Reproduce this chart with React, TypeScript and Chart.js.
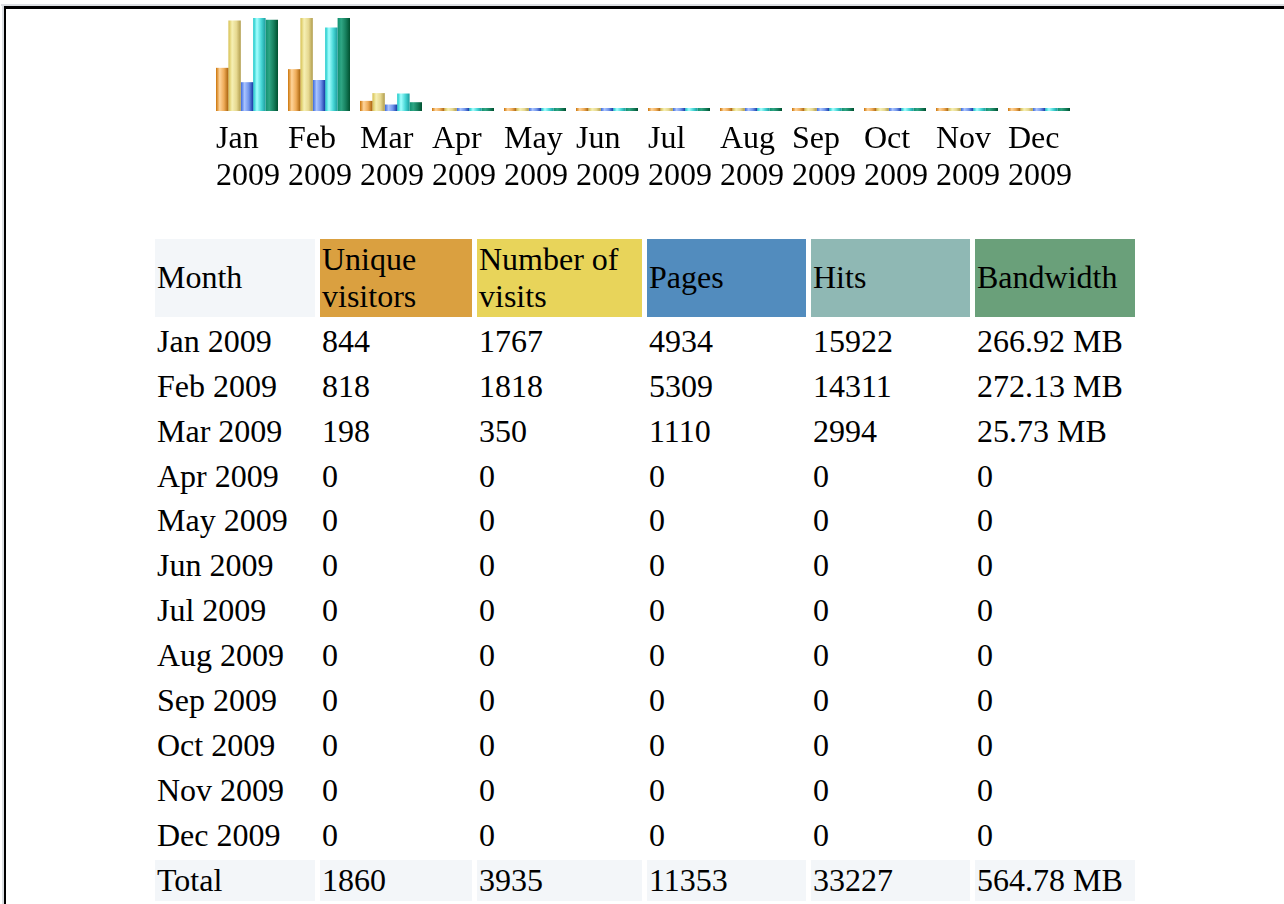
import React, { useEffect, useRef } from "react";
import { Chart, registerables } from "chart.js";

Chart.register(...registerables);

const MONTHS = ["Jan", "Feb", "Mar", "Apr", "May", "Jun", "Jul", "Aug", "Sep", "Oct", "Nov", "Dec"];
const YEAR = "2009";
const uniqueVisitors = [844, 818, 198, 0, 0, 0, 0, 0, 0, 0, 0, 0];
const numberOfVisits = [1767, 1818, 350, 0, 0, 0, 0, 0, 0, 0, 0, 0];
const pages = [4934, 5309, 1110, 0, 0, 0, 0, 0, 0, 0, 0, 0];
const hits = [15922, 14311, 2994, 0, 0, 0, 0, 0, 0, 0, 0, 0];
const bandwidthMB = [266.92, 272.13, 25.73, 0, 0, 0, 0, 0, 0, 0, 0, 0];

const HEADERS = ["Month", "Unique visitors", "Number of visits", "Pages", "Hits", "Bandwidth"];
const HEADER_BG = ["#f3f6f9", "#daa040", "#e8d45a", "#528cbe", "#8fb8b4", "#6aa07a"];
const COL_W = [156, 148, 161, 155, 155, 156];

const FONT = '"Liberation Serif", "Times New Roman", serif';
const CAT_PCT = 62 / 72;

const GRADS: string[][] = [
  ["#cc7408", "#ffd49a", "#eeab58", "#a8620c"],
  ["#d6c050", "#f6f0b4", "#e6d890", "#b09c4c"],
  ["#3766dc", "#a9c3ff", "#6f93ea", "#1638a4"],
  ["#12c6c6", "#a6ffff", "#48d8d8", "#1a9c9c"],
  ["#109070", "#2fa684", "#17805e", "#00502f"],
];

function gradientFor(ctx: any) {
  const stops = GRADS[ctx.datasetIndex];
  const chart = ctx.chart;
  const xs = chart.scales && chart.scales.x;
  if (!xs || ctx.dataIndex === undefined || !isFinite(xs.width) || xs.width <= 0) return stops[1];
  const cw = xs.width / MONTHS.length;
  const gw = cw * CAT_PCT;
  const bw = gw / 5;
  const left = xs.getPixelForValue(ctx.dataIndex) - gw / 2 + ctx.datasetIndex * bw;
  const g = chart.ctx.createLinearGradient(left, 0, left + bw, 0);
  g.addColorStop(0, stops[0]);
  g.addColorStop(0.3, stops[1]);
  g.addColorStop(0.65, stops[2]);
  g.addColorStop(1, stops[3]);
  return g;
}

function fmtBw(v: number) {
  return v === 0 ? "0" : v.toFixed(2) + " MB";
}
const sum = (a: number[]) => a.reduce((s, v) => s + v, 0);

function App() {
  const ref = useRef<HTMLCanvasElement | null>(null);
  useEffect(() => {
    if (!ref.current) return;
    const mk = (data: number[], axis: string) => ({
      data,
      yAxisID: axis,
      backgroundColor: gradientFor,
      borderWidth: 0,
      minBarLength: 3,
      barPercentage: 1,
      categoryPercentage: CAT_PCT,
    });
    const chart = new Chart(ref.current, {
      type: "bar",
      data: {
        labels: MONTHS.map((m) => [m, YEAR]),
        datasets: [
          mk(uniqueVisitors, "yv"),
          mk(numberOfVisits, "yv"),
          mk(pages, "yp"),
          mk(hits, "yp"),
          mk(bandwidthMB, "yb"),
        ] as any,
      },
      options: {
        animation: false,
        responsive: false,
        maintainAspectRatio: false,
        layout: { padding: { left: 211, right: 209, top: 18, bottom: 0 } },
        plugins: { legend: { display: false }, tooltip: { enabled: false } },
        scales: {
          x: {
            grid: { display: false, drawTicks: false },
            border: { display: false },
            ticks: {
              autoSkip: false,
              maxRotation: 0,
              minRotation: 0,
              align: "start",
              labelOffset: -31,
              padding: 10,
              color: "#000",
              font: { family: FONT, size: 32, lineHeight: 37 / 32 },
            },
          },
          yv: { display: false, min: 0, max: Math.max(...numberOfVisits) },
          yp: { display: false, min: 0, max: Math.max(...hits) },
          yb: { display: false, min: 0, max: Math.max(...bandwidthMB) },
        },
      } as any,
    });
    return () => chart.destroy();
  }, []);

  const rows = MONTHS.map((m, i) => [
    `${m} ${YEAR}`,
    String(uniqueVisitors[i]),
    String(numberOfVisits[i]),
    String(pages[i]),
    String(hits[i]),
    fmtBw(bandwidthMB[i]),
  ]);
  const total = [
    "Total",
    String(sum(uniqueVisitors)),
    String(sum(numberOfVisits)),
    String(sum(pages)),
    String(sum(hits)),
    sum(bandwidthMB).toFixed(2) + " MB",
  ];

  const cell: React.CSSProperties = {
    padding: 2,
    fontFamily: FONT,
    fontSize: 32,
    lineHeight: "36.9px",
    color: "#000",
    textAlign: "left",
    verticalAlign: "middle",
    fontWeight: "normal",
  };

  return (
    <div style={{ position: "absolute", left: 0, top: 0, width: 1284, height: 904, background: "#fff", overflow: "hidden" }}>
      <div style={{ position: "absolute", left: 1, top: 4, right: 0, height: 2, background: "#dcdfe3" }} />
      <div style={{ position: "absolute", left: 2, top: 5, width: 2, bottom: 0, background: "#dcdfe3" }} />
      <div style={{ position: "absolute", left: 4, top: 6, right: 0, height: 3, background: "#000" }} />
      <div style={{ position: "absolute", left: 4, top: 6, width: 2, bottom: 0, background: "#000" }} />
      <canvas ref={ref} width={1284} height={204} style={{ position: "absolute", left: 0, top: 0, width: 1284, height: 204 }} />
      <table
        style={{
          position: "absolute",
          left: 150,
          top: 235,
          borderCollapse: "separate",
          borderSpacing: "5px 4px",
          tableLayout: "fixed",
        }}
      >
        <colgroup>
          {COL_W.map((w, i) => (
            <col key={i} style={{ width: w + 4 }} />
          ))}
        </colgroup>
        <thead>
          <tr>
            {HEADERS.map((h, i) => (
              <th key={i} style={{ ...cell, background: HEADER_BG[i] }}>
                {h}
              </th>
            ))}
          </tr>
        </thead>
        <tbody>
          {rows.map((r, ri) => (
            <tr key={ri}>
              {r.map((c, ci) => (
                <td key={ci} style={cell}>
                  {c}
                </td>
              ))}
            </tr>
          ))}
          <tr>
            {total.map((c, ci) => (
              <td key={ci} style={{ ...cell, background: "#f3f6f9" }}>
                {c}
              </td>
            ))}
          </tr>
        </tbody>
      </table>
    </div>
  );
}

export default App;
